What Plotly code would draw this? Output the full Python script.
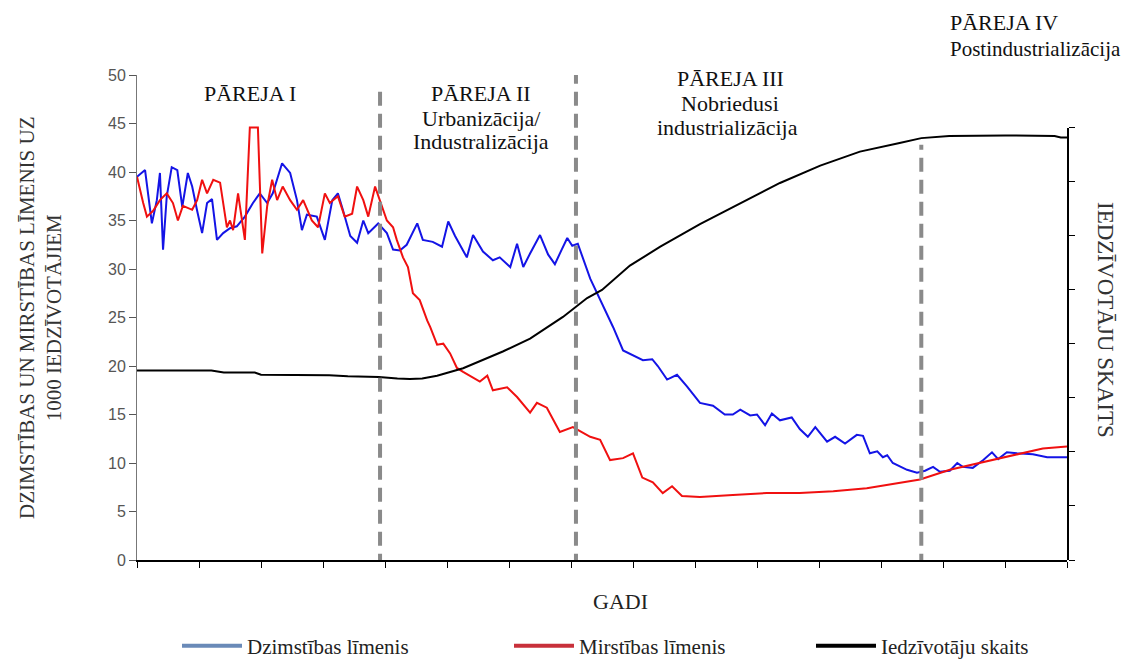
import plotly.graph_objects as go

# ---------------- data ----------------
birth_x = [0, 1.3, 2.4, 3.2, 3.7, 4.2, 4.8, 5.6, 6.5, 7.3, 8.2, 8.9, 9.7, 10.5, 11.3, 12.1, 12.9, 13.9,
           15.0, 16.1, 17.4, 18.7, 19.8, 21.0, 21.9, 23.4, 24.7, 25.8, 26.6, 27.4, 29.0, 30.3, 31.5,
           32.4, 33.2, 34.4, 35.5, 36.5, 37.3, 38.9, 40.3, 41.3, 42.4, 43.5, 45.2, 46.1, 47.7, 49.2,
           50.2, 51.3, 53.2, 54.2, 55.8, 57.4, 58.5, 60.2, 61.3, 62.3, 63.4, 65.0, 66.3, 67.4, 68.5,
           69.4, 70.2, 71.1, 73.1, 74.7, 76.8, 78.4, 80.0, 81.6, 83.1, 84.0, 85.5, 87.1, 88.7, 90.8,
           92.9, 94.8, 96.1, 97.3, 98.9, 100.0, 101.3, 102.4, 103.7, 105.6, 106.9, 108.2, 109.4,
           111.3, 112.6, 114.2, 116.1, 117.1, 118.2, 119.4, 120.3, 121.0, 121.9, 124.2, 125.8, 127.1,
           128.4, 129.5, 131.1, 132.3, 133.2, 134.8, 136.5, 137.9, 138.9, 140.3, 141.9, 144.5, 146.8, 150]
birth_y = [39.5, 40.2, 34.7, 37.1, 39.9, 32.0, 37.5, 40.5, 40.2, 36.4, 39.9, 38.5, 36.0, 33.7, 36.8,
           37.2, 33.0, 33.7, 34.2, 34.4, 35.4, 36.8, 37.8, 36.8, 37.8, 40.9, 39.9, 37.1, 34.0, 35.6,
           35.4, 33.0, 37.1, 37.8, 36.1, 33.4, 32.7, 35.0, 33.7, 34.7, 33.7, 32.0, 31.9, 32.5, 34.7,
           33.0, 32.8, 32.3, 34.9, 33.4, 31.2, 33.5, 31.8, 30.9, 31.2, 30.2, 32.6, 30.2, 31.6, 33.5,
           31.5, 30.5, 32.0, 33.2, 32.4, 32.6, 29.0, 26.8, 24.0, 21.6, 21.1, 20.6, 20.7, 20.0, 18.6,
           19.1, 17.9, 16.2, 15.9, 15.0, 15.0, 15.5, 14.9, 15.0, 13.9, 15.1, 14.4, 14.7, 13.5, 12.7,
           13.7, 12.2, 12.7, 12.0, 12.9, 12.8, 11.0, 11.2, 10.6, 10.8, 10.0, 9.3, 9.0, 9.2, 9.6, 9.1,
           9.2, 10.0, 9.6, 9.5, 10.3, 11.1, 10.4, 11.1, 11.0, 10.9, 10.6, 10.6]

death_x = [0, 0.2, 1.0, 1.6, 2.6, 3.7, 4.8, 5.8, 6.6, 7.4, 8.9, 9.7, 10.5, 11.3, 12.3, 13.4, 14.5,
           15.0, 15.5, 16.3, 17.4, 18.2, 19.5, 20.2, 21.0, 21.8, 22.6, 23.5, 24.7, 25.8, 26.8, 28.2,
           29.2, 30.3, 31.1, 32.4, 33.5, 34.7, 35.5, 36.5, 37.3, 38.4, 39.2, 40.3, 41.3, 41.9, 42.9,
           43.7, 44.5, 45.6, 46.8, 47.3, 48.4, 49.4, 50.5, 51.6, 52.6, 55.3, 56.5, 57.4, 59.7, 61.3,
           63.4, 64.5, 66.1, 68.2, 70.3, 73.1, 74.7, 76.3, 78.4, 80.0, 81.5, 83.2, 84.8, 86.3, 87.9,
           90.8, 96.1, 101.6, 106.9, 112.3, 117.7, 123.1, 126.3, 131.1, 136.5, 141.9, 146.1, 150]
death_y = [39.5, 38.9, 36.8, 35.4, 36.0, 37.1, 37.8, 36.8, 35.0, 36.5, 36.1, 37.1, 39.2, 37.8, 39.2,
           38.9, 34.3, 35.0, 34.0, 37.8, 33.0, 44.6, 44.6, 31.6, 36.5, 39.2, 37.1, 38.5, 37.1, 36.1,
           37.1, 35.0, 34.3, 37.8, 36.8, 37.5, 35.4, 35.7, 38.5, 37.1, 35.4, 38.5, 37.1, 35.0, 34.3,
           33.0, 31.2, 30.2, 27.5, 26.8, 24.7, 24.0, 22.2, 22.3, 21.3, 19.8, 19.4, 18.4, 19.0, 17.5,
           17.8, 16.8, 15.2, 16.2, 15.7, 13.2, 13.7, 12.7, 12.4, 10.3, 10.5, 11.0, 8.5, 8.0, 6.9, 7.6,
           6.6, 6.5, 6.7, 6.9, 6.9, 7.1, 7.4, 8.0, 8.3, 9.3, 10.1, 10.9, 11.5, 11.7]

pop_x = [0, 12, 14, 19, 20, 31, 34, 39, 42, 44, 46, 48.4, 52.6, 59, 63.4, 68.7, 72.6, 75, 79.5,
         84.4, 90.8, 97.3, 103.7, 110.2, 116.6, 123, 126.5, 131, 140, 148, 149, 150]
pop_y = [3.51, 3.51, 3.47, 3.47, 3.43, 3.42, 3.40, 3.39, 3.36, 3.35, 3.36, 3.41, 3.55, 3.86, 4.1,
         4.5, 4.85, 5.0, 5.45, 5.8, 6.22, 6.61, 6.98, 7.3, 7.56, 7.72, 7.81, 7.85, 7.86, 7.85, 7.82, 7.82]

phase_bounds = [39.2, 70.8, 126.5]
phase_tops = [48.7, 50, 42.8]

series_names = ["Dzimstības līmenis", "Mirstības līmenis", "Iedzīvotāju skaits"]
legend_colors = ["#6a8ab8", "#c8303a", "#000000"]

SERIF = "Liberation Serif"
OFF = 8  # page body offset of the rendered figure
W, H = 1136, 660
L, R, T, B = 137 - OFF, 1067 - OFF, 75 - OFF, 560 - OFF


def px2paper(px, py):
    return (px - OFF - L) / (R - L), (B - (py - OFF)) / (B - T)


fig = go.Figure()
fig.add_trace(go.Scatter(x=birth_x, y=birth_y, mode="lines", line=dict(color="#1414e6", width=2),
                         showlegend=False, hoverinfo="skip"))
fig.add_trace(go.Scatter(x=death_x, y=death_y, mode="lines", line=dict(color="#f01010", width=2),
                         showlegend=False, hoverinfo="skip"))
fig.add_trace(go.Scatter(x=pop_x, y=pop_y, mode="lines", line=dict(color="#000000", width=2),
                         xaxis="x", yaxis="y2", showlegend=False, hoverinfo="skip"))
legend_ids = ["legend", "legend2", "legend3"]
for name, col, lid in zip(series_names, legend_colors, legend_ids):
    fig.add_trace(go.Scatter(x=[None], y=[None], mode="lines", name=name, legend=lid,
                             line=dict(color=col, width=4)))

for bx, top in zip(phase_bounds, phase_tops):
    fig.add_shape(type="line", x0=bx, x1=bx, y0=-0.8, y1=top, xref="x", yref="y",
                  line=dict(color="#8a8a8a", width=4, dash="14px,8px"))

# phase labels (text, x px, center-y px, anchor, size)
ann = [
    ("PĀREJA I", 250, 94, "center", 22),
    ("PĀREJA II", 481, 94, "center", 22),
    ("Urbanizācija/", 481, 118, "center", 22),
    ("Industralizācija", 481, 142, "center", 22),
    ("PĀREJA III", 730, 79, "center", 22),
    ("Nobriedusi", 730, 103, "center", 22),
    ("industrializācija", 727, 128, "center", 22),
    ("PĀREJA IV", 948, 23, "left", 22),
    ("Postindustrializācija", 948, 49, "left", 21),
]
for txt, px, py, anc, sz in ann:
    xx, yy = px2paper(px, py)
    fig.add_annotation(text=txt, x=xx, y=yy, xref="paper", yref="paper", showarrow=False,
                       xanchor=anc, yanchor="middle", font=dict(family=SERIF, size=sz, color="#111"))

xx, yy = px2paper(40, 318)
fig.add_annotation(text="DZIMSTĪBAS UN MIRSTĪBAS LĪMENIS UZ<br>1000 IEDZĪVOTĀJIEM", x=xx, y=yy,
                   xref="paper", yref="paper", showarrow=False, textangle=-90,
                   xanchor="center", yanchor="middle",
                   font=dict(family=SERIF, size=21, color="#333"))
xx, yy = px2paper(1106, 320)
fig.add_annotation(text="IEDZĪVOTĀJU SKAITS", x=xx, y=yy, xref="paper", yref="paper",
                   showarrow=False, textangle=90, xanchor="center", yanchor="middle",
                   font=dict(family=SERIF, size=23, color="#333"))
xx, yy = px2paper(620, 601)
fig.add_annotation(text="GADI", x=xx, y=yy, xref="paper", yref="paper", showarrow=False,
                   xanchor="center", yanchor="middle", font=dict(family=SERIF, size=22, color="#222"))

legend_common = dict(orientation="h", xanchor="left", yanchor="middle", itemwidth=60,
                     bgcolor="rgba(0,0,0,0)",
                     font=dict(family="Liberation Serif, Times New Roman, serif", size=21, color="#222"))
legend_x_px = [182, 514, 816]
legend_layout = {}
for lid, lx in zip(legend_ids, legend_x_px):
    xx, yy = px2paper(lx - 5, 646)
    legend_layout[lid] = dict(x=xx, y=yy, **legend_common)

fig.update_layout(
    width=W, height=H,
    font=dict(family="Liberation Serif, Times New Roman, serif", color="#222"),
    margin=dict(l=L, r=W - R, t=T, b=H - B, autoexpand=False),
    plot_bgcolor="rgba(0,0,0,0)", paper_bgcolor="white",
    xaxis=dict(range=[0, 150], tick0=0, dtick=10, showticklabels=False, ticks="outside",
               ticklen=6, tickcolor="#000", showgrid=False, zeroline=False,
               showline=True, linecolor="#000", linewidth=1.5),
    yaxis=dict(range=[0, 50], dtick=5, ticks="outside", ticklen=7, tickcolor="#555",
               showgrid=False, zeroline=False, showline=True, linecolor="#777", linewidth=1,
               tickfont=dict(family="Liberation Sans", size=16, color="#555")),
    yaxis2=dict(domain=[0, 0.891], range=[0, 8], dtick=1, anchor="x", side="right",
                showticklabels=False, ticks="outside", ticklen=6, tickcolor="#000",
                showgrid=False, zeroline=False, showline=True, linecolor="#000", linewidth=2),
    showlegend=True,
    **legend_layout,
)

fig.write_html("out.html")
